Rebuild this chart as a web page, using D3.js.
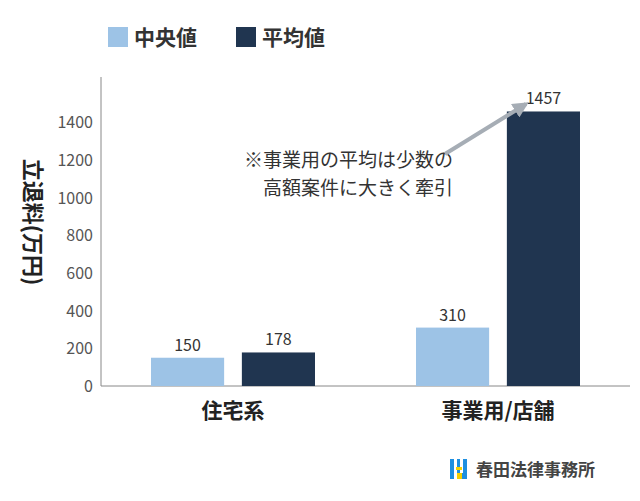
<!DOCTYPE html>
<html><head><meta charset="utf-8">
<script src="https://cdn.jsdelivr.net/npm/d3@7"></script>
<style>body{margin:0;background:#fff;font-family:"Noto Sans CJK JP","Noto Sans",sans-serif;}</style>
</head><body><div id="chart"></div>
<script>
// categories and series
var categories = ["住宅系", "事業用/店舗"];
var seriesNames = ["中央値", "平均値"];
var median = [150, 310];
var mean = [178, 1457];
var yTicks = [0, 200, 400, 600, 800, 1000, 1200, 1400];
var colors = ["#9dc3e6", "#203550"];

var width = 640, height = 501;
var svg = d3.select("#chart").append("svg").attr("width", width).attr("height", height);

var x = d3.scaleBand().domain(categories).range([101, 630]).paddingInner(0).paddingOuter(0);
var inner = d3.scaleBand().domain(seriesNames).range([0, 164]).paddingInner(16 / 164 * 2);
var y = d3.scaleLinear().domain([0, 1640]).range([386, 77]);

// axes
svg.append("line").attr("x1", 101).attr("x2", 101).attr("y1", 77).attr("y2", 386).attr("stroke", "#888");
svg.append("line").attr("x1", 101).attr("x2", 630).attr("y1", 386).attr("y2", 386).attr("stroke", "#888");
svg.selectAll(".yt").data(yTicks).enter().append("text")
  .attr("x", 93).attr("y", function (d) { return y(d) + 6; })
  .attr("text-anchor", "end").attr("font-size", 16).attr("fill", "#555")
  .text(function (d) { return d; });

// category labels
var centers = [233, 498];
svg.selectAll(".cat").data(categories).enter().append("text")
  .attr("x", function (d, i) { return centers[i]; }).attr("y", 418)
  .attr("text-anchor", "middle").attr("font-size", 21).attr("font-weight", "bold").attr("fill", "#222")
  .text(function (d) { return d; });

// bars
var values = [median, mean];
values.forEach(function (vals, s) {
  svg.selectAll(".b" + s).data(vals).enter().append("rect")
    .attr("x", function (d, i) { return centers[i] - 82 + inner(seriesNames[s]); })
    .attr("width", inner.bandwidth())
    .attr("y", function (d) { return y(d); })
    .attr("height", function (d) { return y(0) - y(d); })
    .attr("fill", colors[s]);
  svg.selectAll(".l" + s).data(vals).enter().append("text")
    .attr("x", function (d, i) { return centers[i] - 82 + inner(seriesNames[s]) + inner.bandwidth() / 2; })
    .attr("y", function (d) { return y(d) - 7; })
    .attr("text-anchor", "middle").attr("font-size", 16).attr("fill", "#333")
    .text(function (d) { return d; });
});

// legend
var legX = [108, 236];
seriesNames.forEach(function (n, i) {
  svg.append("rect").attr("x", legX[i]).attr("y", 27).attr("width", 20).attr("height", 20).attr("fill", colors[i]);
  svg.append("text").attr("x", legX[i] + 26).attr("y", 45).attr("font-size", 21).attr("font-weight", "bold")
    .attr("fill", "#333").text(n);
});

// y title
svg.append("text").attr("transform", "translate(33,222) rotate(90)").attr("text-anchor", "middle")
  .attr("font-size", 22).attr("font-weight", "bold").attr("fill", "#222").text("立退料(万円)")
  .attr("dy", "0.35em");

// annotation
svg.append("text").attr("x", 453).attr("y", 167).attr("text-anchor", "end").attr("font-size", 19).attr("fill", "#333").text("※事業用の平均は少数の");
svg.append("text").attr("x", 453).attr("y", 195).attr("text-anchor", "end").attr("font-size", 19).attr("fill", "#333").text("高額案件に大きく牽引");
svg.append("defs").append("marker").attr("id", "ah").attr("viewBox", "0 0 10 10").attr("refX", 8).attr("refY", 5)
  .attr("markerWidth", 4).attr("markerHeight", 4).attr("orient", "auto")
  .append("path").attr("d", "M0,0L10,5L0,10z").attr("fill", "#a6adb5");
svg.append("line").attr("x1", 445).attr("y1", 154).attr("x2", 526).attr("y2", 104)
  .attr("stroke", "#a6adb5").attr("stroke-width", 4).attr("marker-end", "url(#ah)");

// logo
svg.append("rect").attr("x", 450).attr("y", 459).attr("width", 17).attr("height", 20).attr("fill", "#1e8fe0");
svg.append("rect").attr("x", 454).attr("y", 459).attr("width", 3).attr("height", 20).attr("fill", "#fff");
svg.append("rect").attr("x", 460).attr("y", 459).attr("width", 3).attr("height", 14).attr("fill", "#fff");
svg.append("rect").attr("x", 456).attr("y", 467).attr("width", 6).attr("height", 3).attr("fill", "#f5d000");
svg.append("rect").attr("x", 457).attr("y", 473).attr("width", 5).attr("height", 6).attr("fill", "#f5d000");
svg.append("text").attr("x", 476).attr("y", 476).attr("font-size", 17).attr("font-weight", "bold").attr("fill", "#444").text("春田法律事務所");
</script></body></html>
